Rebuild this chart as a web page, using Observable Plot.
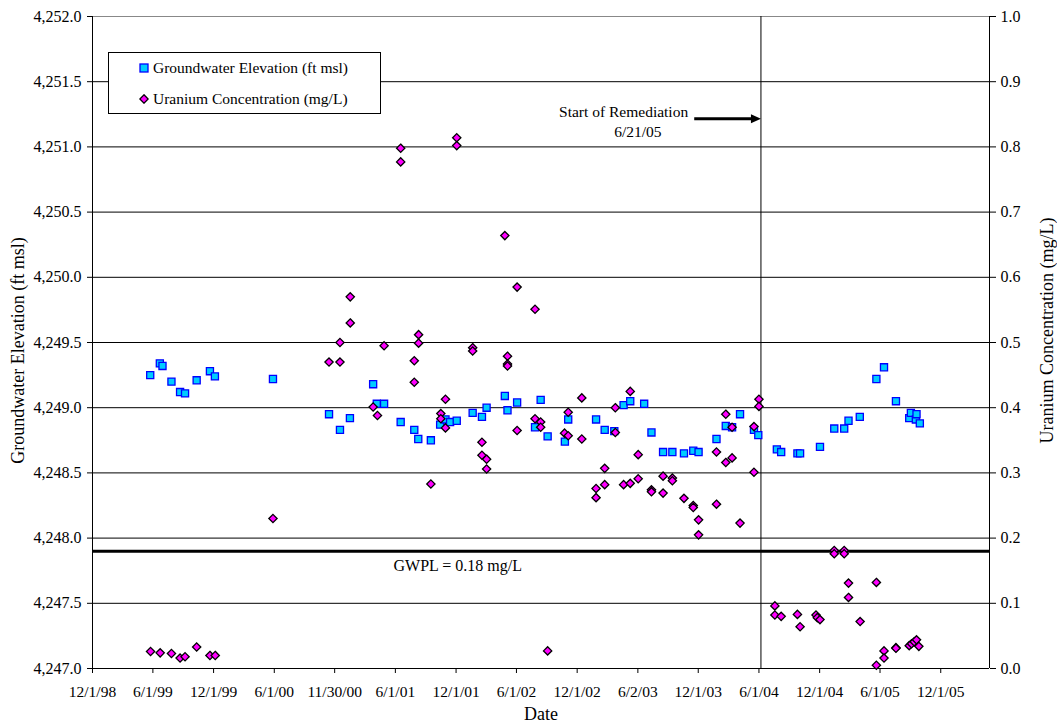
<!DOCTYPE html>
<html><head><meta charset="utf-8">
<script src="https://cdn.jsdelivr.net/npm/d3@7"></script>
<script src="https://cdn.jsdelivr.net/npm/@observablehq/plot@0.6"></script>
<style>
body{margin:0;background:#fff;font-family:"Liberation Serif","Times New Roman",serif;}
#wrap{position:relative;width:1057px;height:725px;}
#legend{position:absolute;left:108px;top:52px;width:273px;height:62px;border:1px solid #000;background:#fff;box-sizing:border-box;font-size:15.5px;color:#000;}
#legend .row{position:absolute;left:30px;display:flex;align-items:center;height:18px;white-space:nowrap;}
#legend svg{margin-right:4px;flex:none;}
</style></head><body><div id="wrap"></div>
<script>
// ---- data ----
const gwDates = ["1999-05-24","1999-06-22","1999-06-30","1999-07-27","1999-08-22","1999-09-06","1999-10-11","1999-11-20","1999-12-05","2000-05-28",
"2000-11-13","2000-12-16","2001-01-15","2001-03-26","2001-04-06","2001-04-28","2001-06-17","2001-07-28","2001-08-09","2001-09-16",
"2001-10-14","2001-10-30","2001-11-13","2001-12-03","2002-01-20","2002-02-17","2002-03-03","2002-04-27","2002-05-05","2002-06-03",
"2002-07-27","2002-08-13","2002-09-03","2002-10-25","2002-11-04","2003-01-27","2003-02-22","2003-03-23","2003-04-20","2003-05-10",
"2003-06-21","2003-07-13","2003-08-17","2003-09-14","2003-10-19","2003-11-16","2003-12-02","2004-01-25","2004-02-22","2004-03-12",
"2004-04-05","2004-05-17","2004-05-30","2004-07-25","2004-08-07","2004-09-25","2004-10-03","2004-12-02","2005-01-14","2005-02-13",
"2005-02-26","2005-04-01","2005-05-21","2005-06-13","2005-07-19","2005-08-28","2005-09-02","2005-09-17","2005-09-19","2005-09-29"];
const gwElev = [4249.25,4249.34,4249.32,4249.20,4249.12,4249.11,4249.21,4249.28,4249.24,4249.22,
4248.95,4248.83,4248.92,4249.18,4249.03,4249.03,4248.89,4248.83,4248.76,4248.75,
4248.87,4248.91,4248.89,4248.90,4248.96,4248.93,4249.00,4249.09,4248.98,4249.04,
4248.85,4249.06,4248.78,4248.74,4248.91,4248.91,4248.83,4248.82,4249.02,4249.05,
4249.03,4248.81,4248.66,4248.66,4248.65,4248.67,4248.66,4248.76,4248.86,4248.85,
4248.95,4248.83,4248.79,4248.68,4248.66,4248.65,4248.65,4248.70,4248.84,4248.84,
4248.90,4248.93,4249.22,4249.31,4249.05,4248.92,4248.96,4248.91,4248.95,4248.88];

const uDates = ["1999-05-25","1999-06-23","1999-07-27","1999-08-22","1999-09-06","1999-10-11","1999-11-20","1999-12-06","2000-05-28","2000-11-13",
"2000-12-16","2000-12-16","2001-01-16","2001-01-16","2001-03-26","2001-04-08","2001-04-28","2001-06-17","2001-06-17","2001-07-28",
"2001-07-28","2001-08-10","2001-08-10","2001-09-16","2001-10-16","2001-10-16","2001-10-30","2001-10-30","2001-12-03","2001-12-03",
"2002-01-20","2002-01-20","2002-02-17","2002-02-17","2002-03-03","2002-03-03","2002-04-27","2002-05-05","2002-05-05","2002-05-05",
"2002-06-03","2002-06-03","2002-07-27","2002-07-27","2002-08-13","2002-08-13","2002-09-03","2002-10-24","2002-11-04","2002-11-04",
"2002-12-15","2002-12-15","2003-01-27","2003-01-27","2003-02-22","2003-02-22","2003-03-26","2003-03-26","2003-04-20","2003-05-10",
"2003-05-10","2003-06-03","2003-06-03","2003-07-13","2003-07-13","2003-08-17","2003-08-17","2003-09-14","2003-09-14","2003-10-19",
"2003-11-16","2003-11-16","2003-12-02","2003-12-02","2004-01-25","2004-01-25","2004-02-22","2004-02-22","2004-03-12","2004-03-12",
"2004-04-05","2004-05-17","2004-05-17","2004-06-01","2004-06-01","2004-07-19","2004-07-19","2004-08-07","2004-09-25","2004-10-03",
"2004-11-20","2004-11-24","2004-12-02","2005-01-14","2005-01-14","2005-02-13","2005-02-13","2005-02-26","2005-02-26","2005-04-02",
"2005-05-21","2005-05-21","2005-06-13","2005-06-13","2005-07-19","2005-07-19","2005-08-28","2005-09-04","2005-09-12","2005-09-19",
"2005-09-26"];
const uConc = [0.026,0.024,0.023,0.016,0.018,0.033,0.020,0.020,0.230,0.470,
0.500,0.470,0.570,0.530,0.401,0.388,0.495,0.798,0.777,0.472,
0.439,0.512,0.499,0.283,0.391,0.383,0.413,0.369,0.814,0.802,
0.492,0.487,0.347,0.327,0.321,0.306,0.664,0.479,0.467,0.464,
0.585,0.365,0.551,0.383,0.378,0.370,0.027,0.361,0.357,0.393,
0.415,0.352,0.276,0.262,0.307,0.282,0.400,0.362,0.282,0.425,
0.284,0.328,0.291,0.274,0.271,0.295,0.269,0.292,0.288,0.261,
0.250,0.247,0.228,0.205,0.332,0.252,0.390,0.316,0.370,0.323,
0.223,0.371,0.301,0.413,0.402,0.096,0.082,0.080,0.083,0.064,
0.082,0.078,0.075,0.181,0.176,0.181,0.176,0.131,0.109,0.072,
0.132,0.005,0.027,0.016,0.032,0.031,0.035,0.038,0.041,0.044,
0.034];

const xTickLabels = ["12/1/98","6/1/99","12/1/99","6/1/00","11/30/00","6/1/01","12/1/01","6/1/02","12/1/02","6/2/03","12/1/03","6/1/04","12/1/04","6/1/05","12/1/05"];
const xDomain = ["1998-12-01","2006-04-27"];
const elevTicks = [4247.0,4247.5,4248.0,4248.5,4249.0,4249.5,4250.0,4250.5,4251.0,4251.5,4252.0];
const concRange = [0, 1.0];
const gwpl = 0.18;
const remediationLineDate = "2004-06-07";
const remediationLabel = ["Start of Remediation", "6/21/05"];
const remediationLabelDates = ["2003-04-20", "2003-06-02"];
const remediationLabelConc = [0.853, 0.823];
const arrowStartDate = "2003-12-13";
const arrowConc = 0.843;
const gwplLabel = "GWPL = 0.18 mg/L";
const gwplLabelDate = "2001-12-06";
const gwplLabelConc = 0.157;
const seriesNames = ["Groundwater Elevation (ft msl)", "Uranium Concentration (mg/L)"];
const axisTitles = {x: "Date", yLeft: "Groundwater Elevation (ft msl)", yRight: "Uranium Concentration (mg/L)"};

// ---- build ----
const parse = d3.utcParse("%Y-%m-%d");
const tickParse = d3.utcParse("%m/%d/%y");
const xTicks = xTickLabels.map(tickParse);
const labelByTime = new Map(xTicks.map((d, i) => [+d, xTickLabels[i]]));
const elevMin = elevTicks[0], elevMax = elevTicks[elevTicks.length - 1];
const toElev = c => elevMin + (c - concRange[0]) / (concRange[1] - concRange[0]) * (elevMax - elevMin);
const toConc = e => concRange[0] + (e - elevMin) / (elevMax - elevMin) * (concRange[1] - concRange[0]);

const gw = gwDates.map((d, i) => ({date: parse(d), elev: gwElev[i]}));
const ur = uDates.map((d, i) => ({date: parse(d), elev: toElev(uConc[i])}));
const x0 = parse(xDomain[0]), x1 = parse(xDomain[1]);
const remDate = parse(remediationLineDate);

const diamond = {draw(ctx, size) { const h = Math.sqrt(size / 2); ctx.moveTo(0, -h); ctx.lineTo(h, 0); ctx.lineTo(0, h); ctx.lineTo(-h, 0); ctx.closePath(); }};
const headRight = {draw(ctx) { ctx.moveTo(0, 0); ctx.lineTo(-10, -4.5); ctx.lineTo(-10, 4.5); ctx.closePath(); }};

const annText = remediationLabel.map((t, i) => ({t, date: parse(remediationLabelDates[i]), elev: toElev(remediationLabelConc[i])}));
const arrowData = [{xa: parse(arrowStartDate), xb: remDate, y: toElev(arrowConc)}];
const fmtElev = d3.format(",.1f");

const chart = Plot.plot({
  width: 1057, height: 725,
  marginLeft: 92, marginRight: 68, marginTop: 16, marginBottom: 57,
  style: {fontFamily: "'Liberation Serif', 'Times New Roman', serif", fontSize: "15px", background: "white", overflow: "visible", color: "#000"},
  x: {type: "utc", domain: [x0, x1]},
  y: {domain: [elevMin, elevMax]},
  marks: [
    Plot.ruleY(elevTicks.filter(t => t > elevMin && t < elevMax), {stroke: "#000", strokeWidth: 1}),
    Plot.ruleY([elevMax], {stroke: "#888", strokeWidth: 1}),
    Plot.ruleY([elevMin], {stroke: "#000", strokeWidth: 1}),
    Plot.ruleX([x0, x1], {stroke: "#000", strokeWidth: 1}),
    Plot.ruleY([toElev(gwpl)], {stroke: "#000", strokeWidth: 3}),
    Plot.ruleX([remDate], {stroke: "#000", strokeWidth: 1}),
    // tick marks
    Plot.axisX(xTicks, {anchor: "bottom", tickSize: 5, tickFormat: () => "", label: null}),
    Plot.axisY(elevTicks, {anchor: "left", tickSize: 5, tickFormat: () => "", label: null}),
    Plot.axisY(elevTicks, {anchor: "right", tickSize: 6, tickFormat: () => "", label: null}),
    // tick labels
    Plot.text(xTicks, {x: d => d, frameAnchor: "bottom", text: d => labelByTime.get(+d), lineAnchor: "middle", dy: 24, fontSize: 15.5}),
    Plot.text(elevTicks, {y: d => d, frameAnchor: "left", text: d => fmtElev(d), textAnchor: "end", lineAnchor: "middle", dx: -11, fontSize: 16}),
    Plot.text(elevTicks, {y: d => d, frameAnchor: "right", text: d => toConc(d).toFixed(1), textAnchor: "start", lineAnchor: "middle", dx: 11, fontSize: 16}),
    // axis titles
    Plot.text([axisTitles.x], {frameAnchor: "bottom", textAnchor: "middle", lineAnchor: "middle", dy: 46, fontSize: 18}),
    Plot.text([axisTitles.yLeft], {frameAnchor: "left", textAnchor: "middle", lineAnchor: "middle", dx: -74, dy: 8, rotate: -90, fontSize: 18}),
    Plot.text([axisTitles.yRight], {frameAnchor: "right", textAnchor: "middle", lineAnchor: "middle", dx: 58, dy: -12, rotate: -90, fontSize: 18}),
    // data
    Plot.dot(gw, {x: "date", y: "elev", symbol: "square", r: 4, fill: "#00CCFF", stroke: "#0000FF", strokeWidth: 1.3}),
    Plot.dot(ur, {x: "date", y: "elev", symbol: diamond, r: 3.3, fill: "#FF00FF", stroke: "#000", strokeWidth: 1.3}),
    // annotations
    Plot.text(annText, {x: "date", y: "elev", text: "t", fontSize: 15.5}),
    Plot.link(arrowData, {x1: "xa", x2: "xb", y1: "y", y2: "y", stroke: "#000", strokeWidth: 3, dx: -8}),
    Plot.dot(arrowData, {x: "xb", y: "y", symbol: headRight, r: 4, fill: "#000", stroke: "none"}),
    Plot.text([{t: gwplLabel, date: parse(gwplLabelDate), elev: toElev(gwplLabelConc)}], {x: "date", y: "elev", text: "t", fontSize: 16})
  ]
});
const wrap = document.getElementById("wrap");
wrap.appendChild(chart);

// legend box
const lg = document.createElement("div");
lg.id = "legend";
lg.innerHTML = `
<div class="row" style="top:6px"><svg width="10" height="10"><rect x="1" y="1" width="8" height="8" fill="#00CCFF" stroke="#0000FF" stroke-width="1.3"/></svg><span>${seriesNames[0]}</span></div>
<div class="row" style="top:36.5px"><svg width="10" height="10"><path d="M5,0.8L9.2,5L5,9.2L0.8,5Z" fill="#FF00FF" stroke="#000" stroke-width="1.3"/></svg><span>${seriesNames[1]}</span></div>`;
wrap.appendChild(lg);
</script>
</body></html>
